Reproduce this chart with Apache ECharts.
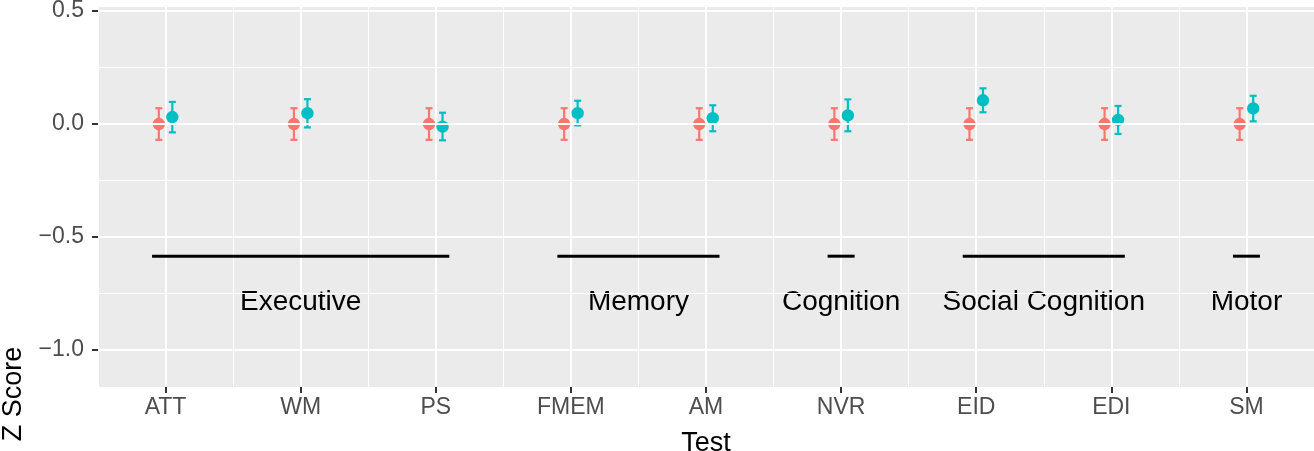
<!DOCTYPE html>
<html>
<head>
<meta charset="utf-8">
<script src="https://cdn.jsdelivr.net/npm/echarts@6/dist/echarts.min.js"></script>
<style>
  html, body { margin: 0; padding: 0; background: #fff; }
  #chart { width: 1314px; height: 451px; }
</style>
</head>
<body>
<div id="chart"></div>
<script>
// tests on the x axis
const tests = ['ATT', 'WM', 'PS', 'FMEM', 'AM', 'NVR', 'EID', 'EDI', 'SM'];

// group 1 (red): mean and error bar bounds
const redMean = [0, 0, 0, 0, 0, 0, 0, 0, 0];
const redLow = [-0.07, -0.07, -0.07, -0.07, -0.07, -0.07, -0.07, -0.07, -0.07];
const redHigh = [0.07, 0.07, 0.07, 0.07, 0.07, 0.07, 0.07, 0.07, 0.07];

// group 2 (cyan)
const cyanMean = [0.031, 0.048, -0.012, 0.048, 0.026, 0.038, 0.105, 0.018, 0.069];
const cyanLow = [-0.037, -0.015, -0.072, -0.006, -0.032, -0.032, 0.052, -0.044, 0.012];
const cyanHigh = [0.098, 0.110, 0.050, 0.103, 0.083, 0.109, 0.158, 0.080, 0.125];

// domain brackets under the points
const domainNames = ['Executive', 'Memory', 'Cognition', 'Social Cognition', 'Motor'];
const domainFirst = [0, 3, 5, 6, 8];
const domainLast = [2, 4, 5, 7, 8];
const bracketY = -0.585;
const domainLabelY = -0.79;

// y axis ticks / grid
const yMajor = [-1, -0.5, 0, 0.5];
const yMinor = [-0.75, -0.25, 0.25];
const yMin = -1.164;
const yMax = 0.518;

const dodge = 0.05;
const bracketPad = 0.1;

const chart = echarts.init(document.getElementById('chart'));

const fmt = v => (v < 0 ? '\u2212' : '') + Math.abs(v).toFixed(1);

function pointData(mean, low, high, shift) {
  return tests.map((t, i) => [i + 0.5 + shift, low[i], high[i], mean[i]]);
}

function errorBar(color) {
  return function (params, api) {
    const x = api.value(0);
    const lo = api.coord([x, api.value(1)]);
    const hi = api.coord([x, api.value(2)]);
    const mid = api.coord([x, api.value(3)]);
    const cap = 3.5;
    const st = { stroke: color, lineWidth: 2.2 };
    return {
      type: 'group',
      children: [
        { type: 'line', shape: { x1: lo[0], y1: lo[1], x2: hi[0], y2: hi[1] }, style: st },
        { type: 'line', shape: { x1: lo[0] - cap, y1: lo[1], x2: lo[0] + cap, y2: lo[1] }, style: st },
        { type: 'line', shape: { x1: hi[0] - cap, y1: hi[1], x2: hi[0] + cap, y2: hi[1] }, style: st },
        { type: 'circle', shape: { cx: mid[0], cy: mid[1], r: 6.2 }, style: { fill: color } }
      ]
    };
  };
}

const bracketData = domainNames.map((n, i) => [domainFirst[i], domainLast[i], bracketY, domainLabelY]);

const option = {
  animation: false,
  backgroundColor: '#ffffff',
  textStyle: { fontFamily: 'Liberation Sans, Arial, sans-serif' },
  grid: {
    left: 98,
    right: 0,
    top: 7,
    bottom: 64,
    outerBoundsMode: 'none',
    containLabel: false,
    show: true,
    backgroundColor: '#EBEBEB',
    borderWidth: 0
  },
  xAxis: [
    {
      // numeric axis for positions and vertical grid
      type: 'value',
      position: 'top',
      min: 0,
      max: 9,
      interval: 1,
      axisLine: { show: false },
      axisTick: { show: false },
      axisLabel: { show: false },
      splitLine: { show: true, lineStyle: { color: '#ffffff', width: 1 } },
      minorTick: { show: false, splitNumber: 2 },
      minorSplitLine: { show: true, lineStyle: { color: '#ffffff', width: 2 } }
    },
    {
      type: 'category',
      position: 'bottom',
      data: tests,
      boundaryGap: true,
      axisLine: { show: false },
      axisTick: { show: true, alignWithLabel: true, length: 6, lineStyle: { color: '#333333', width: 2 } },
      axisLabel: { color: '#4D4D4D', fontSize: 23, margin: 9 },
      splitLine: { show: false },
      name: 'Test',
      nameLocation: 'middle',
      nameGap: 43,
      nameTextStyle: { color: '#000000', fontSize: 27 }
    }
  ],
  yAxis: {
    type: 'value',
    min: yMin,
    max: yMax,
    axisLine: { show: false },
    axisTick: { show: true, length: 6, customValues: yMajor, lineStyle: { color: '#333333', width: 2 } },
    axisLabel: { customValues: yMajor, color: '#4D4D4D', fontSize: 23, margin: 14, formatter: fmt },
    splitLine: { show: false }
  },
  graphic: [
    {
      type: 'text',
      x: 14,
      y: 394,
      rotation: Math.PI / 2,
      style: {
        text: 'Z Score',
        fill: '#000000',
        font: '27px "Liberation Sans", Arial, sans-serif',
        align: 'center',
        verticalAlign: 'middle',
        textAlign: 'center',
        textVerticalAlign: 'middle'
      }
    }
  ],
  series: [
    {
      // horizontal grid lines
      type: 'line',
      xAxisIndex: 0,
      data: [],
      z: 1,
      silent: true,
      markLine: {
        silent: true,
        symbol: 'none',
        label: { show: false },
        animation: false,
        data: yMajor.map(v => ({ yAxis: v, lineStyle: { color: '#ffffff', width: 2, type: 'solid' } }))
          .concat(yMinor.map(v => ({ yAxis: v, lineStyle: { color: '#ffffff', width: 1, type: 'solid' } })))
      }
    },
    {
      name: 'Group 1',
      type: 'custom',
      xAxisIndex: 0,
      z: 3,
      renderItem: errorBar('#F8766D'),
      encode: { x: 0, y: [1, 2, 3] },
      data: pointData(redMean, redLow, redHigh, -dodge)
    },
    {
      name: 'Group 2',
      type: 'custom',
      xAxisIndex: 0,
      z: 3,
      renderItem: errorBar('#00BFC4'),
      encode: { x: 0, y: [1, 2, 3] },
      data: pointData(cyanMean, cyanLow, cyanHigh, dodge)
    },
    {
      name: 'Domains',
      type: 'custom',
      xAxisIndex: 0,
      z: 3,
      encode: { x: [0, 1], y: [2, 3] },
      renderItem: function (params, api) {
        const a = api.coord([api.value(0) + 0.5 - bracketPad, api.value(2)]);
        const b = api.coord([api.value(1) + 0.5 + bracketPad, api.value(2)]);
        const c = api.coord([(api.value(0) + api.value(1)) / 2 + 0.5, api.value(3)]);
        return {
          type: 'group',
          children: [
            { type: 'line', shape: { x1: a[0], y1: a[1], x2: b[0], y2: b[1] }, style: { stroke: '#000000', lineWidth: 3 } },
            {
              type: 'text',
              x: c[0],
              y: c[1],
              style: {
                text: domainNames[params.dataIndex],
                fill: '#000000',
                font: '28px "Liberation Sans", Arial, sans-serif',
                align: 'center',
                verticalAlign: 'middle'
              }
            }
          ]
        };
      },
      data: bracketData
    }
  ]
};

chart.setOption(option);
</script>
</body>
</html>
